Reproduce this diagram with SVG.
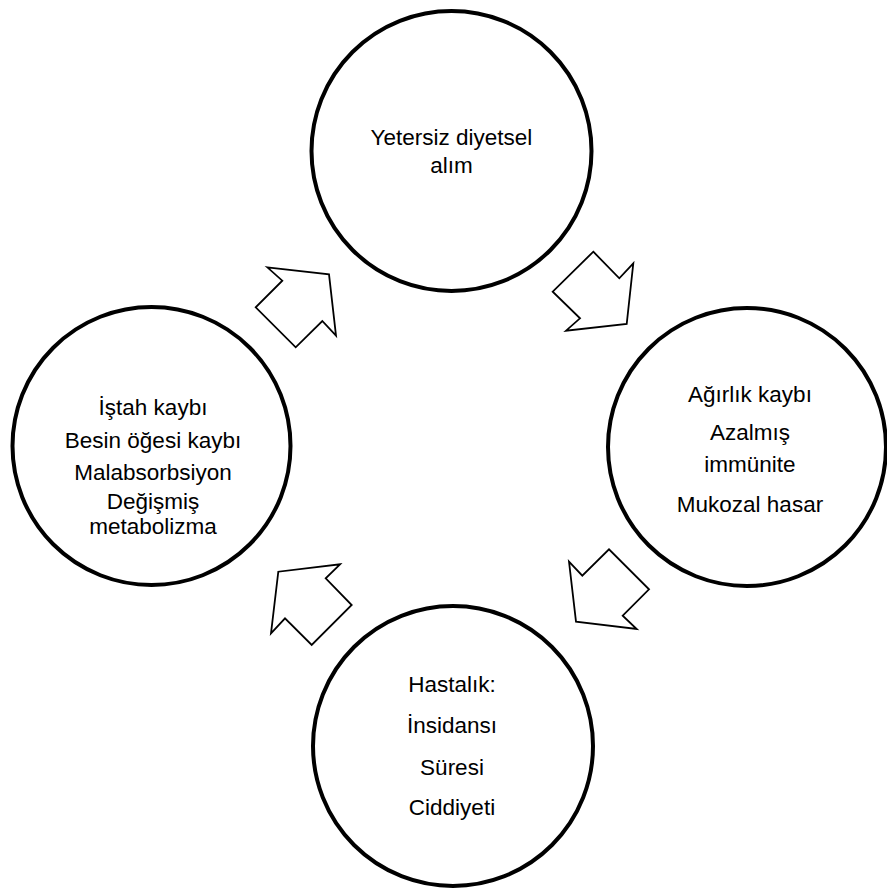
<svg xmlns="http://www.w3.org/2000/svg" width="887" height="891" viewBox="0 0 887 891">
<style>
.node circle{fill:#fff;stroke:#000;stroke-width:4}
.node text{font-family:"Liberation Sans",Arial,sans-serif;font-size:22.5px;fill:#000;text-anchor:middle}
.arrow{fill:#fff;stroke:#000;stroke-width:1.8;stroke-linejoin:miter}
</style>
<rect width="887" height="891" fill="#fff"/>
<g id="node-top" class="node">
<circle cx="451.5" cy="151" r="140"/>
<text x="451.5" y="145">Yetersiz diyetsel</text>
<text x="451.5" y="173">alım</text>
</g>
<g id="node-right" class="node">
<circle cx="747" cy="447" r="139"/>
<text x="750" y="402">Ağırlık kaybı</text>
<text x="750" y="440">Azalmış</text>
<text x="750" y="472">immünite</text>
<text x="750" y="512">Mukozal hasar</text>
</g>
<g id="node-bottom" class="node">
<circle cx="453" cy="746" r="140"/>
<text x="452" y="692">Hastalık:</text>
<text x="452" y="733">İnsidansı</text>
<text x="452" y="775">Süresi</text>
<text x="452" y="815">Ciddiyeti</text>
</g>
<g id="node-left" class="node">
<circle cx="151.5" cy="446" r="139"/>
<text x="153" y="415">İştah kaybı</text>
<text x="153" y="448">Besin öğesi kaybı</text>
<text x="153" y="480">Malabsorbsiyon</text>
<text x="153" y="509">Değişmiş</text>
<text x="153" y="534">metabolizma</text>
</g>
<g id="connectors">
<polygon class="arrow" points="593.3,251.7 619.3,278.3 633.3,263.3 626.7,324 566,330.7 580,318.3 552.7,291.7"/>
<polygon class="arrow" points="569,561.7 582.3,575.7 609,549.3 649,589.3 622.7,615.7 636.7,629 576,621.7"/>
<polygon class="arrow" points="340,564.3 325.7,578.3 351.7,605 311.7,645 285,618.3 271,633.3 278.3,571.7"/>
<polygon class="arrow" points="267.3,267.3 329,274.3 336,335.7 322.3,321 295.7,347.3 255.7,307.3 282.3,280.7"/>
</g>
</svg>
